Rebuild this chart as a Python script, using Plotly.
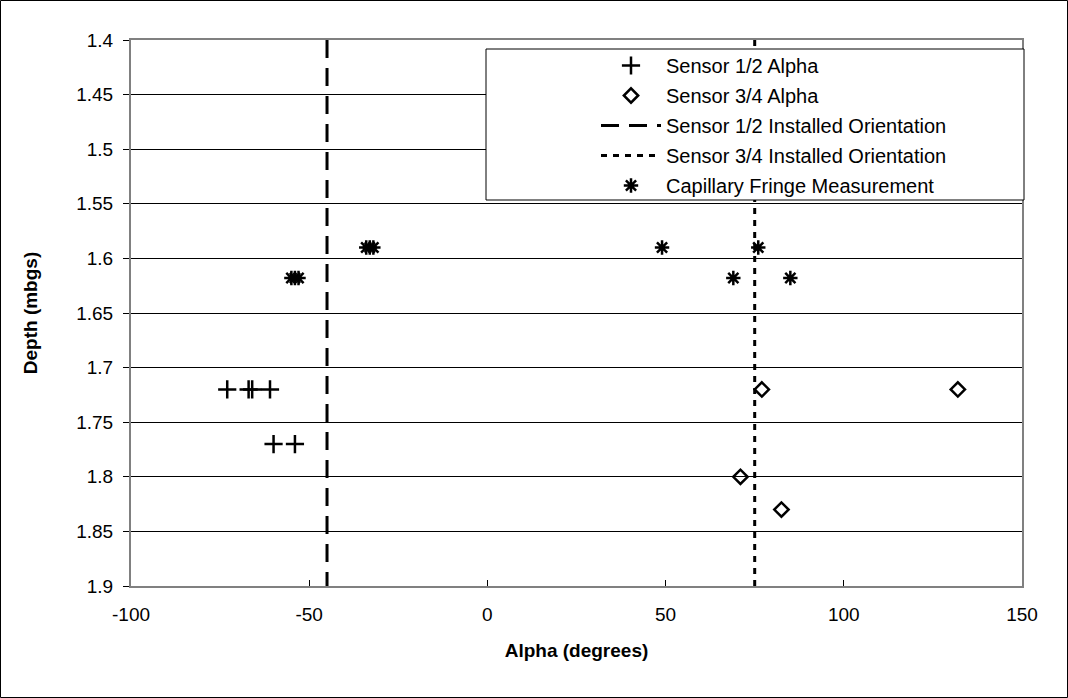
import plotly.graph_objects as go

# ---- data ----
s12_alpha = [-73, -67, -66, -61, -60, -54]
s12_depth = [1.72, 1.72, 1.72, 1.72, 1.77, 1.77]

s34_alpha = [77, 132, 71, 82.5]
s34_depth = [1.72, 1.72, 1.80, 1.83]

s12_install_alpha = [-45, -45]
s34_install_alpha = [75, 75]
install_depth = [1.4, 1.9]

cap_alpha = [-34, -33, -32, 49, 76, -55, -54, -53, 69, 85]
cap_depth = [1.59, 1.59, 1.59, 1.59, 1.59, 1.618, 1.618, 1.618, 1.618, 1.618]

y_tickvals = [1.4, 1.45, 1.5, 1.55, 1.6, 1.65, 1.7, 1.75, 1.8, 1.85, 1.9]
y_ticktext = ["1.4", "1.45", "1.5", "1.55", "1.6", "1.65", "1.7", "1.75", "1.8", "1.85", "1.9"]
x_tickvals = [-100, -50, 0, 50, 100, 150]
x_ticktext = ["-100", "-50", "0", "50", "100", "150"]

# ---- layout geometry (px) ----
W, H = 1068, 698
L, R, T, B = 131, 46, 40, 112
pw, ph = W - L - R, H - T - B

def px_x(x):
    return (x - L) / pw

def px_y(y):
    return (H - B - y) / ph

FONT = "Liberation Sans, Arial, sans-serif"

fig = go.Figure()
fig.add_trace(go.Scatter(
    x=s12_alpha, y=s12_depth, mode="markers", name="Sensor 1/2 Alpha",
    legendgroup="a",
    marker=dict(symbol="cross-thin", size=13, color="black",
                line=dict(color="black", width=2.5))))
fig.add_trace(go.Scatter(
    x=s34_alpha, y=s34_depth, mode="markers", name="Sensor 3/4 Alpha",
    legendgroup="b",
    marker=dict(symbol="diamond-open", size=11, color="black",
                line=dict(color="black", width=2.5))))
fig.add_trace(go.Scatter(
    x=s12_install_alpha, y=install_depth, mode="lines",
    name="Sensor 1/2 Installed Orientation", legendgroup="c",
    line=dict(color="black", width=3, dash="18px,10px")))
fig.add_trace(go.Scatter(
    x=s34_install_alpha, y=install_depth, mode="lines",
    name="Sensor 3/4 Installed Orientation", legendgroup="d",
    line=dict(color="black", width=3, dash="6px,6px")))
fig.add_trace(go.Scatter(
    x=cap_alpha, y=cap_depth, mode="markers",
    name="Capillary Fringe Measurement", legendgroup="e",
    marker=dict(symbol="asterisk-open", size=12, color="black",
                line=dict(color="black", width=2.5))))

shapes = [
    # legend box
    dict(type="rect", xref="paper", yref="paper", layer="above",
         x0=px_x(486), x1=px_x(1024), y0=px_y(200), y1=px_y(49),
         fillcolor="white", line=dict(color="black", width=1)),
    # outer chart border
    dict(type="rect", xref="paper", yref="paper", layer="above",
         x0=px_x(0.5), x1=px_x(W - 0.5), y0=px_y(H - 0.5), y1=px_y(0.5),
         fillcolor="rgba(0,0,0,0)", line=dict(color="black", width=1)),
]

fig.update_layout(
    width=W, height=H,
    margin=dict(l=L, r=R, t=T, b=B),
    paper_bgcolor="white", plot_bgcolor="white",
    font=dict(family=FONT, size=19, color="black"),
    showlegend=True,
    legend=dict(x=px_x(596), y=px_y(46), xanchor="left", yanchor="top",
                bgcolor="rgba(0,0,0,0)", borderwidth=0,
                font=dict(family=FONT, size=20, color="black"),
                itemwidth=60,
                traceorder="grouped", tracegroupgap=1),
    shapes=shapes,
    xaxis=dict(
        range=[-100, 150], tickvals=x_tickvals, ticktext=x_ticktext,
        showgrid=False, zeroline=False,
        showline=True, mirror=True, linecolor="#808080", linewidth=2,
        ticks="inside", ticklen=6, tickcolor="black",
        ticklabelstandoff=10,
        tickfont=dict(family=FONT, size=19),
        title=dict(text="<b>Alpha (degrees)</b>", standoff=20,
                   font=dict(family=FONT, size=19)),
    ),
    yaxis=dict(
        range=[1.9, 1.4], tickvals=y_tickvals, ticktext=y_ticktext,
        showgrid=True, gridcolor="black", gridwidth=1, zeroline=False,
        showline=True, mirror=True, linecolor="#808080", linewidth=2,
        ticks="outside", ticklen=6, tickcolor="black",
        ticklabelstandoff=6,
        tickfont=dict(family=FONT, size=19),
        title=dict(text="<b>Depth (mbgs)</b>", standoff=34,
                   font=dict(family=FONT, size=19)),
    ),
)

fig.write_html("out.html")
